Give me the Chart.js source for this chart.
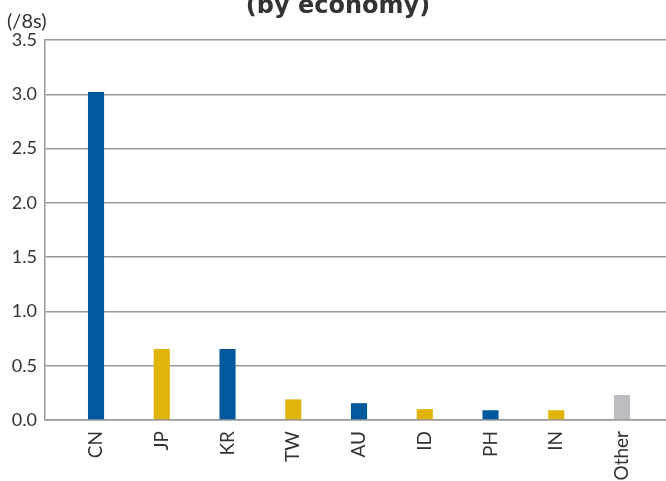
<!DOCTYPE html>
<html>
<head>
<meta charset="utf-8">
<script src="https://cdn.jsdelivr.net/npm/chart.js@4/dist/chart.umd.min.js"></script>
<style>
  html, body { margin: 0; padding: 0; background: #fff; }
  #wrap { width: 666px; height: 481px; position: relative; }
</style>
</head>
<body>
<div id="wrap"><canvas id="c" width="666" height="481"></canvas></div>
<script>
const categories = ['CN', 'JP', 'KR', 'TW', 'AU', 'ID', 'PH', 'IN', 'Other'];
const values = [3.02, 0.655, 0.655, 0.19, 0.155, 0.10, 0.09, 0.09, 0.23];
const barColors = ['#00599c', '#e0b408', '#00599c', '#e0b408', '#00599c', '#e0b408', '#00599c', '#e0b408', '#bcbdc0'];
const yTicks = [0, 0.5, 1.0, 1.5, 2.0, 2.5, 3.0, 3.5];
const titleText = '(by economy)';
const unitText = '(/8s)';

const textPlugin = {
  id: 'textPlugin',
  afterDraw(chart) {
    const ctx = chart.ctx;
    ctx.save();
    ctx.fillStyle = '#333';
    ctx.font = 'bold 24px "DejaVu Sans"';
    ctx.textAlign = 'center';
    ctx.textBaseline = 'alphabetic';
    ctx.fillText(titleText, 338, 13);
    ctx.font = '20px "Liberation Sans Narrow", Lato';
    ctx.textAlign = 'left';
    ctx.fillText(unitText, 7, 28);
    ctx.restore();
  }
};

new Chart(document.getElementById('c'), {
  type: 'bar',
  data: {
    datasets: [{
      data: values.map((v, i) => ({ x: i, y: v })),
      backgroundColor: barColors,
      borderWidth: 0,
      categoryPercentage: 1,
      barPercentage: 0.245
    }]
  },
  options: {
    responsive: false,
    animation: false,
    layout: { padding: { top: 40, right: 0, left: 0, bottom: 0 } },
    plugins: { legend: { display: false }, tooltip: { enabled: false }, title: { display: false } },
    scales: {
      x: {
        type: 'linear',
        offset: false,
        min: -0.776,
        max: 8.669,
        afterBuildTicks: (s) => { s.ticks = categories.map((_, i) => ({ value: i })); },
        afterFit: (s) => { s.height = 61; },
        grid: { display: false, drawTicks: false, offset: false },
        border: { display: true, color: '#999', width: 1.5 },
        ticks: {
          autoSkip: false,
          minRotation: 90,
          maxRotation: 90,
          padding: 11,
          color: '#333',
          font: { family: 'Lato', size: 19 },
          callback: (v) => categories[v] ?? ''
        }
      },
      y: {
        min: 0,
        max: 3.5,
        afterBuildTicks: (s) => { s.ticks = yTicks.map(v => ({ value: v })); },
        afterFit: (s) => { s.width = 45; },
        grid: { color: '#999', lineWidth: 1.5, drawTicks: false },
        border: { display: true, color: '#999', width: 1.5 },
        ticks: {
          padding: 8,
          color: '#333',
          font: { family: 'Lato', size: 18 },
          callback: (v) => Number(v).toFixed(1)
        }
      }
    }
  },
  plugins: [textPlugin]
});
</script>
</body>
</html>
